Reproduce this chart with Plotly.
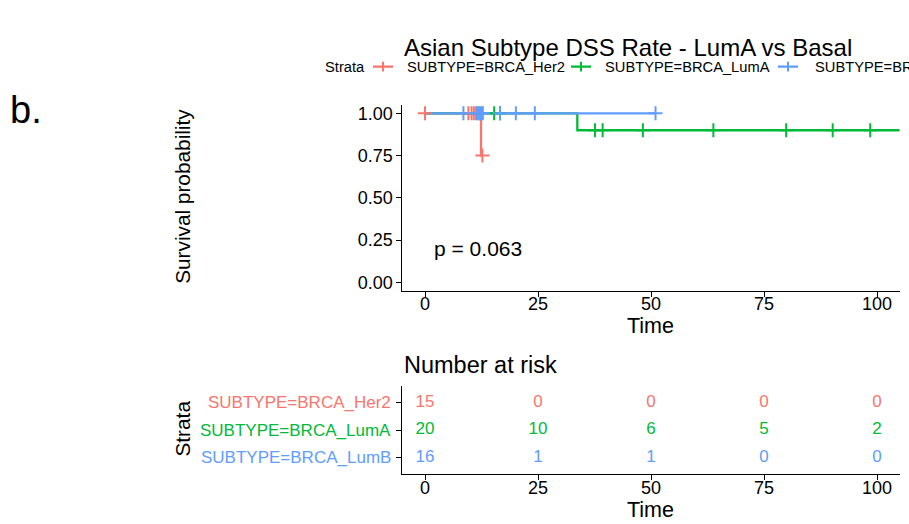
import plotly.graph_objects as go

# ---------------- data ----------------
groups = ["SUBTYPE=BRCA_Her2", "SUBTYPE=BRCA_LumA", "SUBTYPE=BRCA_LumB"]
colors = ["#F8766D", "#00BA38", "#619CFF"]

# step curves (time, survival)
her2_t = [0, 12.4, 12.7]
her2_s = [1.0, 0.75, 0.75]
luma_t = [0, 33.7, 110]
luma_s = [1.0, 0.9, 0.9]
lumb_t = [0, 51.0]
lumb_s = [1.0, 1.0]

# censor marks
her2_ct = [0, 9.6, 10.3, 10.8, 12.7]
her2_cs = [1.0, 1.0, 1.0, 1.0, 0.75]
luma_ct = [11.8, 15.3, 16.6, 37.6, 39.3, 48.2, 63.8, 79.9, 90.2, 98.5]
luma_cs = [1.0, 1.0, 1.0, 0.9, 0.9, 0.9, 0.9, 0.9, 0.9, 0.9]
lumb_ct = [8.5, 11.3, 11.8, 12.2, 12.5, 12.8, 16.6, 20.1, 24.3, 51.0]
lumb_cs = [1.0] * 10

risk_times = [0, 25, 50, 75, 100]
risk_her2 = [15, 0, 0, 0, 0]
risk_luma = [20, 10, 6, 5, 2]
risk_lumb = [16, 1, 1, 0, 0]

x_ticks = [0, 25, 50, 75, 100]
x_ticktext = ["0", "25", "50", "75", "100"]
y_ticks = [0, 0.25, 0.5, 0.75, 1.0]
y_ticktext = ["0.00", "0.25", "0.50", "0.75", "1.00"]
pval_text = "p = 0.063"

W, H = 909, 524
FONT = "Liberation Sans, Arial, sans-serif"

curves = [(her2_t, her2_s, her2_ct, her2_cs),
          (luma_t, luma_s, luma_ct, luma_cs),
          (lumb_t, lumb_s, lumb_ct, lumb_cs)]
risks = [risk_her2, risk_luma, risk_lumb]

fig = go.Figure()
for (t, s, ct, cs), col, name in zip(curves, colors, groups):
    fig.add_trace(go.Scatter(x=t, y=s, mode="lines", line=dict(color=col, width=2.3, shape="hv"),
                             name=name, showlegend=False, xaxis="x", yaxis="y"))
for (t, s, ct, cs), col, name in zip(curves, colors, groups):
    fig.add_trace(go.Scatter(x=ct, y=cs, mode="markers",
                             marker=dict(symbol="cross-thin", size=10, line=dict(color=col, width=2)),
                             showlegend=False, xaxis="x", yaxis="y"))

# risk table
rows = [3, 2, 1]
for r, col, row in zip(risks, colors, rows):
    fig.add_trace(go.Scatter(x=risk_times, y=[row] * len(risk_times), mode="text",
                             text=[str(v) for v in r], textfont=dict(color=col, size=17, family=FONT),
                             showlegend=False, xaxis="x2", yaxis="y2"))

def px_x(p):
    return p / W

def px_y(p):
    return 1 - p / H

xdom = [px_x(402.4), px_x(899.6)]
axis_common = dict(showline=True, linecolor="black", linewidth=1.2, ticks="outside", ticklen=5,
                   tickcolor="black", tickwidth=1.2, showgrid=False, zeroline=False,
                   tickfont=dict(size=18, color="black", family=FONT))

fig.update_layout(
    width=W, height=H, margin=dict(l=0, r=0, t=0, b=0),
    plot_bgcolor="white", paper_bgcolor="white", showlegend=False,
    font=dict(family=FONT, color="black"),
    xaxis=dict(domain=xdom, range=[-5, 105], tickvals=x_ticks, anchor="y", showticklabels=False,
               **axis_common),
    yaxis=dict(domain=[px_y(291.5), px_y(104.5)], range=[-0.05, 1.05], tickvals=y_ticks,
               ticktext=y_ticktext, anchor="x", **axis_common),
    xaxis2=dict(domain=xdom, range=[-5, 105], tickvals=x_ticks, anchor="y2", showticklabels=False,
                **axis_common),
    yaxis2=dict(domain=[px_y(475.5), px_y(387.5)], range=[0.4, 3.6], tickvals=rows,
                ticktext=[""] * 3, anchor="x2", **axis_common),
)

ann = []
# x tick labels (both panels)
for xv, xt in zip(x_ticks, x_ticktext):
    ann.append(dict(text=xt, x=xv, y=px_y(305), xref="x", yref="paper", showarrow=False,
                    font=dict(size=18, color="black"), xanchor="center", yanchor="middle"))
    ann.append(dict(text=xt, x=xv, y=px_y(490), xref="x2", yref="paper", showarrow=False,
                    font=dict(size=18, color="black"), xanchor="center", yanchor="middle"))
# title
ann.append(dict(text="Asian Subtype DSS Rate - LumA vs Basal", x=px_x(628), y=px_y(47), xref="paper", yref="paper",
                showarrow=False, font=dict(size=24, color="black"), xanchor="center", yanchor="middle"))
# b.
ann.append(dict(text="b.", x=px_x(8), y=px_y(110), xref="paper", yref="paper", showarrow=False,
                font=dict(size=38, color="black"), xanchor="left", yanchor="middle"))
# legend
ann.append(dict(text="Strata", x=px_x(323), y=px_y(66), xref="paper", yref="paper", showarrow=False,
                font=dict(size=14.7, color="black"), xanchor="left", yanchor="middle"))
leg_sym = [383, 581, 788]
leg_txt = [405, 603, 813]
shapes = []
for cx, tx, col, name in zip(leg_sym, leg_txt, colors, groups):
    shapes.append(dict(type="line", xref="paper", yref="paper", x0=px_x(cx - 10), x1=px_x(cx + 10),
                       y0=px_y(66), y1=px_y(66), line=dict(color=col, width=2.3)))
    shapes.append(dict(type="line", xref="paper", yref="paper", x0=px_x(cx), x1=px_x(cx),
                       y0=px_y(61), y1=px_y(71), line=dict(color=col, width=2)))
    ann.append(dict(text=name, x=px_x(tx), y=px_y(66), xref="paper", yref="paper", showarrow=False,
                    font=dict(size=14.7, color="black"), xanchor="left", yanchor="middle"))
# axis titles
ann.append(dict(text="Survival probability", x=px_x(183), y=px_y(197), xref="paper", yref="paper",
                showarrow=False, textangle=-90, font=dict(size=20.8, color="black"),
                xanchor="center", yanchor="middle"))
ann.append(dict(text="Time", x=px_x(650), y=px_y(327), xref="paper", yref="paper", showarrow=False,
                font=dict(size=21.5, color="black"), xanchor="center", yanchor="middle"))
ann.append(dict(text="Number at risk", x=px_x(402), y=px_y(366), xref="paper", yref="paper", showarrow=False,
                font=dict(size=23.5, color="black"), xanchor="left", yanchor="middle"))
ann.append(dict(text="Strata", x=px_x(183), y=px_y(430), xref="paper", yref="paper",
                showarrow=False, textangle=-90, font=dict(size=20.8, color="black"),
                xanchor="center", yanchor="middle"))
ann.append(dict(text="Time", x=px_x(650), y=px_y(512), xref="paper", yref="paper", showarrow=False,
                font=dict(size=21.5, color="black"), xanchor="center", yanchor="middle"))
# risk table row labels
for name, col, row in zip(groups, colors, rows):
    ann.append(dict(text=name, x=px_x(393), y=row, xref="paper", yref="y2", showarrow=False,
                    font=dict(size=17, color=col), xanchor="right", yanchor="middle"))
# p-value
ann.append(dict(text=pval_text, x=1.6, y=0.2, xref="x", yref="y", showarrow=False,
                font=dict(size=21, color="black"), xanchor="left", yanchor="middle"))

fig.update_layout(annotations=ann, shapes=shapes)
fig.write_html("out.html", config={"displayModeBar": False},
               post_script="document.body.style.margin='0';document.body.style.overflow='hidden';")
